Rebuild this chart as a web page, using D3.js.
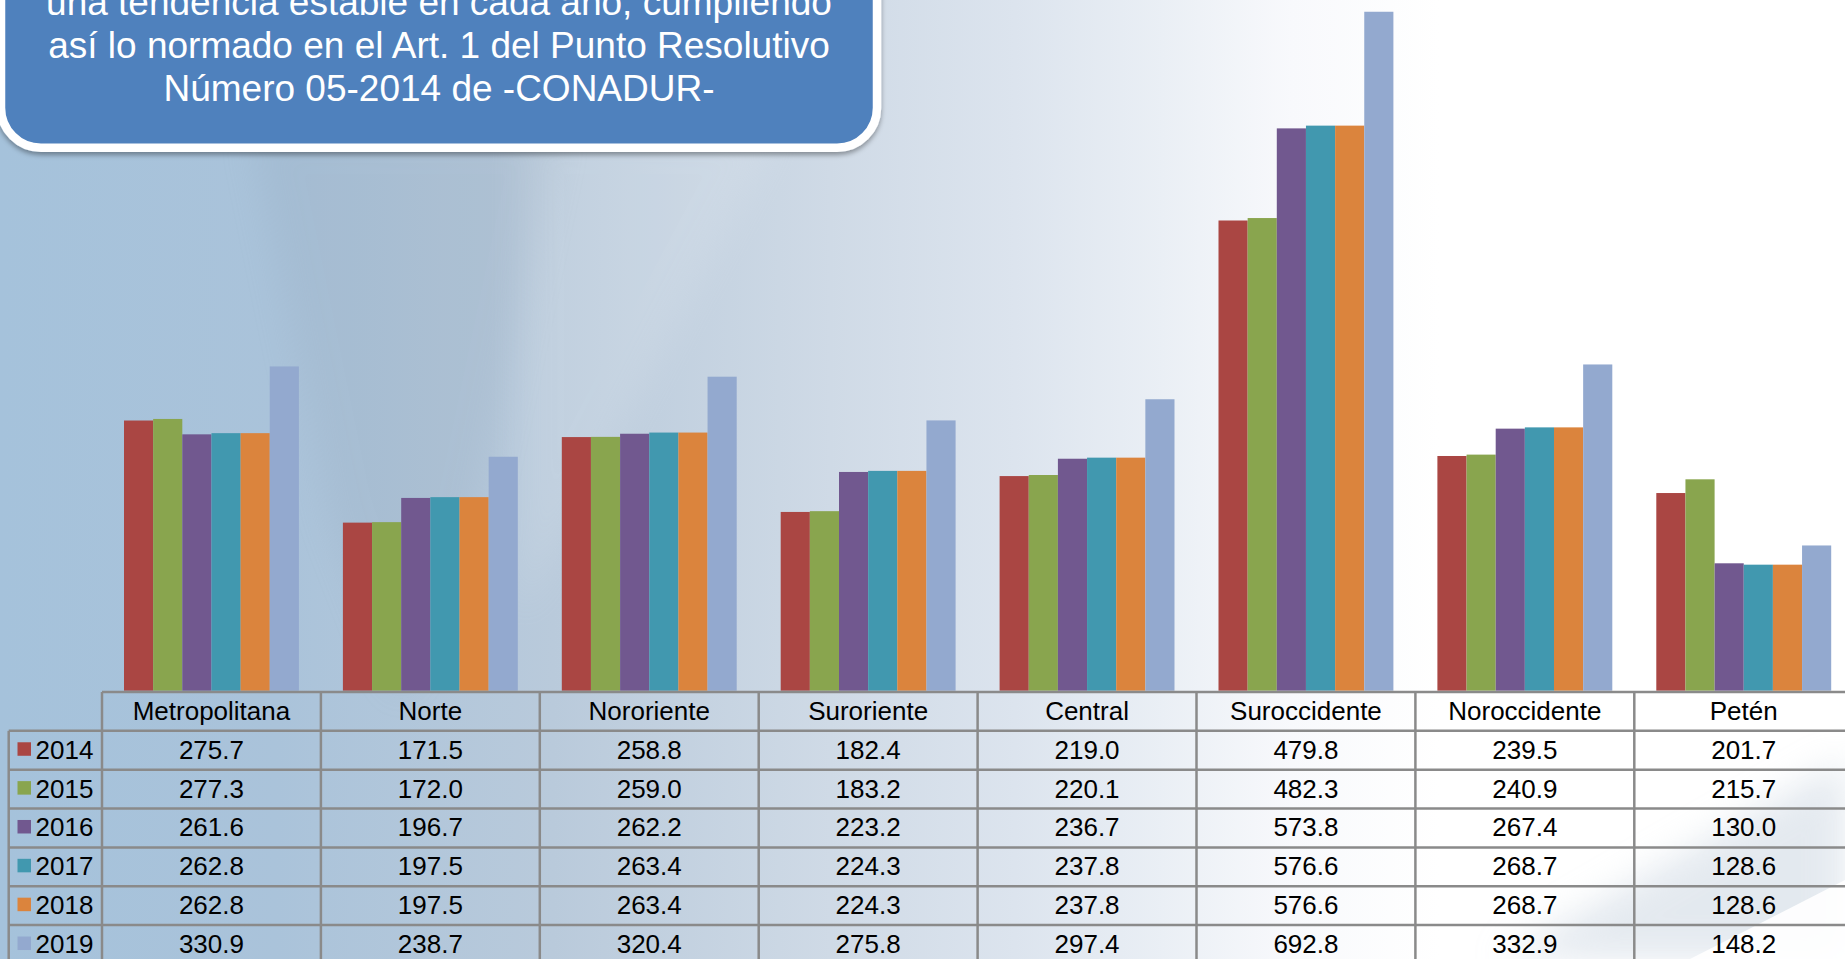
<!DOCTYPE html>
<html>
<head>
<meta charset="utf-8">
<script src="https://cdn.jsdelivr.net/npm/d3@7"></script>
<style>
html,body{margin:0;padding:0;overflow:hidden;background:#fff;}
svg{display:block;}
text{font-family:"Liberation Sans",Arial,sans-serif;}
</style>
</head>
<body>
<svg id="chart" width="1845" height="959"></svg>
<script>
// ---- data ----
const categories = ["Metropolitana","Norte","Nororiente","Suroriente","Central","Suroccidente","Noroccidente","Petén"];
const years = ["2014","2015","2016","2017","2018","2019"];
const v2014 = [275.7,171.5,258.8,182.4,219.0,479.8,239.5,201.7];
const v2015 = [277.3,172.0,259.0,183.2,220.1,482.3,240.9,215.7];
const v2016 = [261.6,196.7,262.2,223.2,236.7,573.8,267.4,130.0];
const v2017 = [262.8,197.5,263.4,224.3,237.8,576.6,268.7,128.6];
const v2018 = [262.8,197.5,263.4,224.3,237.8,576.6,268.7,128.6];
const v2019 = [330.9,238.7,320.4,275.8,297.4,692.8,332.9,148.2];
const seriesValues = [v2014,v2015,v2016,v2017,v2018,v2019];
const colors = ["#AA4643","#89A54E","#71588F","#4198AF","#DB843D","#93A9CF"];
const calloutLines = [
  "una tendencia estable en cada año, cumpliendo",
  "así lo normado en el Art. 1 del Punto Resolutivo",
  "Número 05-2014 de -CONADUR-"
];

const W = 1845, H = 959;
const svg = d3.select("#chart");
const defs = svg.append("defs");

// ---- background ----
const bg = defs.append("linearGradient").attr("id","bg").attr("x1","0").attr("x2","1").attr("y1","0").attr("y2","0");
[[0,"#a5c2db"],[0.15,"#aac3da"],[0.3,"#b9cadb"],[0.45,"#cfdae6"],[0.55,"#dce4ee"],[0.63,"#eaeff5"],[0.7,"#f8f9fc"],[0.78,"#ffffff"],[1,"#ffffff"]]
  .forEach(([o,c])=>bg.append("stop").attr("offset",o).attr("stop-color",c));
svg.append("rect").attr("width",W).attr("height",H).attr("fill","url(#bg)");

const blur = defs.append("filter").attr("id","blur").attr("x","-50%").attr("y","-50%").attr("width","200%").attr("height","200%");
blur.append("feGaussianBlur").attr("stdDeviation",18);

// darker beam
svg.append("path").attr("d","M250,130 L560,130 L470,560 L400,700 L330,520 Z")
  .attr("fill","#8398ad").attr("opacity",0.16).attr("filter","url(#blur)");
// lighter streak
svg.append("path").attr("d","M520,130 L780,130 L520,620 Z")
  .attr("fill","#ffffff").attr("opacity",0.12).attr("filter","url(#blur)");
// bottom-right shading
svg.append("path").attr("d","M1500,959 L1845,760 L1845,959 Z")
  .attr("fill","#c9d4e0").attr("opacity",0.5).attr("filter","url(#blur)");
svg.append("path").attr("d","M1690,959 L1845,880 L1845,959 Z")
  .attr("fill","#ffffff").attr("opacity",0.9);

// ---- scales ----
const tableLeft = 102, colW = 218.9;
const x = d3.scaleBand().domain(categories).range([tableLeft, tableLeft + colW*categories.length]).padding(0);
const xs = d3.scaleBand().domain(years).range([22, colW-22]).padding(0);
const baseY = 690.7;
const y = d3.scaleLinear().domain([0,700]).range([baseY, baseY - 686]);

// ---- bars ----
const barData = [];
categories.forEach((c,i)=>years.forEach((yr,j)=>barData.push({c, yr, v: seriesValues[j][i], color: colors[j]})));
svg.append("g").selectAll("rect").data(barData).join("rect")
  .attr("x", d=>x(d.c)+xs(d.yr))
  .attr("y", d=>y(d.v))
  .attr("width", xs.bandwidth())
  .attr("height", d=>y(0)-y(d.v))
  .attr("fill", d=>d.color);

// ---- table ----
const headTop = 692, rowH = 38.85;
const legLeft = 8.7;
const fmt = d3.format(".1f");
const tg = svg.append("g");
const lineColor = "#8a8a8a", lw = 2.5;

// horizontal lines
tg.append("line").attr("x1",tableLeft).attr("x2",W).attr("y1",headTop).attr("y2",headTop)
  .attr("stroke",lineColor).attr("stroke-width",lw);
years.forEach((yr,j)=>{
  const yy = headTop + rowH*(j+1);
  tg.append("line").attr("x1",legLeft).attr("x2",W).attr("y1",yy).attr("y2",yy)
    .attr("stroke",lineColor).attr("stroke-width",lw);
});
// vertical lines
tg.append("line").attr("x1",legLeft).attr("x2",legLeft).attr("y1",headTop+rowH).attr("y2",H)
  .attr("stroke",lineColor).attr("stroke-width",lw);
categories.forEach(c=>{
  tg.append("line").attr("x1",x(c)).attr("x2",x(c)).attr("y1",headTop).attr("y2",H)
    .attr("stroke",lineColor).attr("stroke-width",lw);
});

// header text
tg.selectAll("text.head").data(categories).join("text").attr("class","head")
  .attr("x", c=>x(c)+colW/2).attr("y", headTop + rowH/2 + 9)
  .attr("text-anchor","middle").attr("font-size",26).attr("fill","#000").text(c=>c);

// legend cells
years.forEach((yr,j)=>{
  const cy = headTop + rowH*(j+1) + rowH/2;
  tg.append("rect").attr("x",17.5).attr("y",cy-8).attr("width",13.5).attr("height",13.5).attr("fill",colors[j]);
  tg.append("text").attr("x",35.5).attr("y",cy+8.5).attr("font-size",26).attr("fill","#000").text(yr);
  tg.selectAll(null).data(categories).join("text")
    .attr("x", (c)=>x(c)+colW/2).attr("y", cy+8.5)
    .attr("text-anchor","middle").attr("font-size",26).attr("fill","#000")
    .text((c,i)=>fmt(seriesValues[j][i]));
});

// ---- callout ----
const sh = defs.append("filter").attr("id","shadow").attr("x","-10%").attr("y","-10%").attr("width","120%").attr("height","130%");
sh.append("feDropShadow").attr("dx",0).attr("dy",3).attr("stdDeviation",2.5).attr("flood-color","#000").attr("flood-opacity",0.35);
svg.append("rect").attr("x",1).attr("y",-100).attr("width",876).attr("height",247.8)
  .attr("rx",40).attr("ry",40).attr("fill","#4f81bd").attr("stroke","#ffffff").attr("stroke-width",8.5)
  .attr("filter","url(#shadow)");
svg.append("g").selectAll("text").data(calloutLines).join("text")
  .attr("x",439).attr("y",(d,i)=>15 + i*43)
  .attr("text-anchor","middle").attr("font-size",37).attr("fill","#ffffff").text(d=>d);
</script>
</body>
</html>
